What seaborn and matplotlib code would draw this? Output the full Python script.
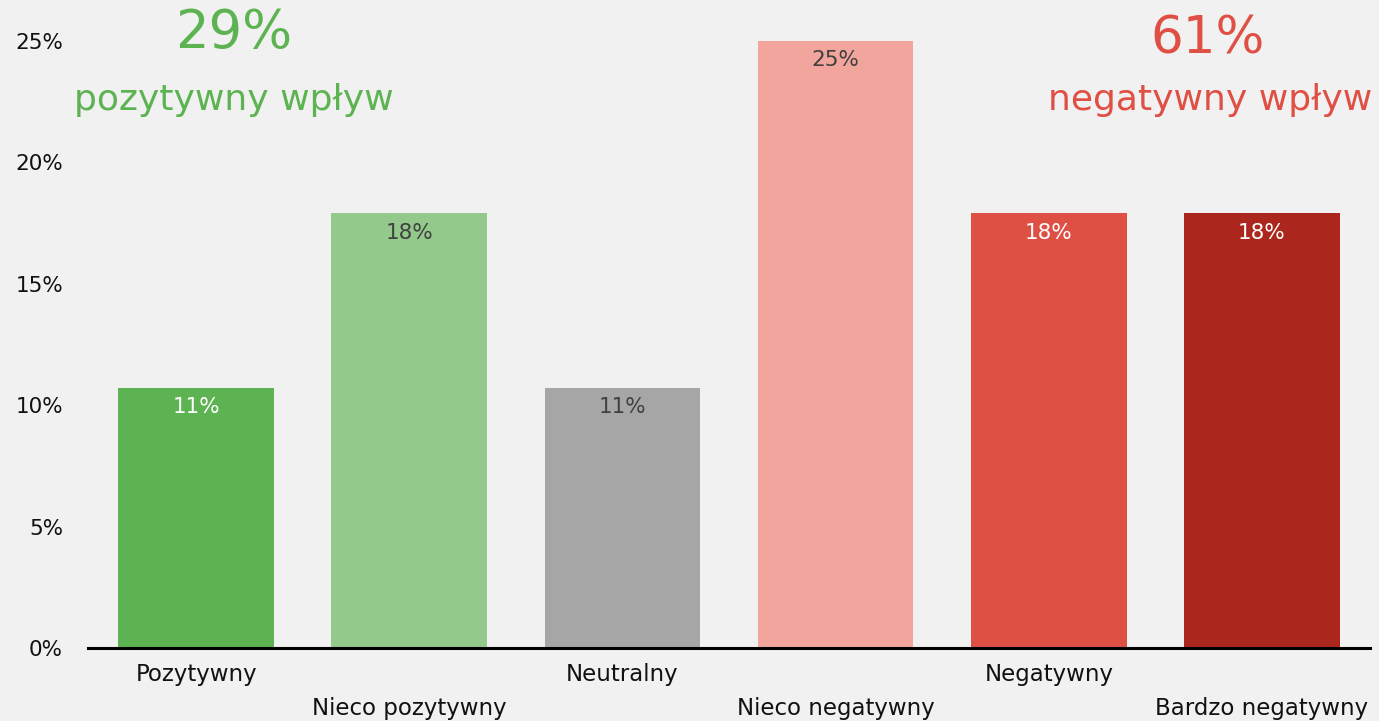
import matplotlib
matplotlib.use("Agg")
import matplotlib.pyplot as plt
import seaborn as sns
import pandas as pd

# dane (odsetek odpowiedzi, %)
categories = ["Pozytywny", "Nieco pozytywny", "Neutralny",
              "Nieco negatywny", "Negatywny", "Bardzo negatywny"]
values = [10.7, 17.9, 10.7, 25.0, 17.9, 17.9]
bar_labels = ["11%", "18%", "11%", "25%", "18%", "18%"]
bar_colors = ["#5db351", "#93c98b", "#a6a6a6", "#f2a59c", "#de5043", "#ab271d"]
label_colors = ["white", "#404040", "#404040", "#404040", "white", "white"]
yticks = [0, 5, 10, 15, 20, 25]
summary_pos = ("29%", "pozytywny wpływ")
summary_neg = ("61%", "negatywny wpływ")

BG = "#f1f1f1"
GREEN = "#5db351"
RED = "#e04f44"

sns.set_theme(style="white")
plt.rcParams["font.family"] = ["DejaVu Sans"]

df = pd.DataFrame({"cat": categories, "val": values})

fig = plt.figure(figsize=(13.79, 7.21), dpi=100, facecolor=BG)
ax = fig.add_axes([88 / 1379, 73 / 721, (1370 - 88) / 1379, (648 - 41) / 721])
ax.set_facecolor(BG)

sns.barplot(data=df, x="cat", y="val", hue="cat", palette=bar_colors,
            width=0.73, legend=False, ax=ax, saturation=1, linewidth=0)

ax.set_xlim(-0.507, 5.507)
ax.set_ylim(0, 25)
ax.set_yticks(yticks)
ax.set_yticklabels([f"{t}%" for t in yticks], fontsize=15.5, color="#111111")
ax.set_xticks(range(len(categories)))
ax.set_xticklabels([c if i % 2 == 0 else "\n" + c for i, c in enumerate(categories)],
                   fontsize=16.5, color="#111111", linespacing=1.6)
ax.tick_params(axis="both", length=0)
ax.tick_params(axis="y", pad=18)
ax.tick_params(axis="x", pad=11)
ax.set_xlabel(""); ax.set_ylabel("")
for s in ["top", "right", "left"]:
    ax.spines[s].set_visible(False)
ax.spines["bottom"].set_color("black")
ax.spines["bottom"].set_linewidth(2.2)
ax.spines["bottom"].set_zorder(5)

for i, cont in enumerate(ax.containers):
    ax.bar_label(cont, labels=[bar_labels[i]], padding=-21, fontsize=15.5,
                 color=label_colors[i])

fig.text(234 / 1379, 1 - 33 / 721, summary_pos[0], color=GREEN, fontsize=38,
         ha="center", va="center")
fig.text(234 / 1379, 1 - 100 / 721, summary_pos[1], color=GREEN, fontsize=26,
         ha="center", va="center")
fig.text(1208 / 1379, 1 - 40 / 721, summary_neg[0], color=RED, fontsize=37,
         ha="center", va="center")
fig.text(1210 / 1379, 1 - 100 / 721, summary_neg[1], color=RED, fontsize=26,
         ha="center", va="center")

fig.savefig("out.png", dpi=100, facecolor=BG)
